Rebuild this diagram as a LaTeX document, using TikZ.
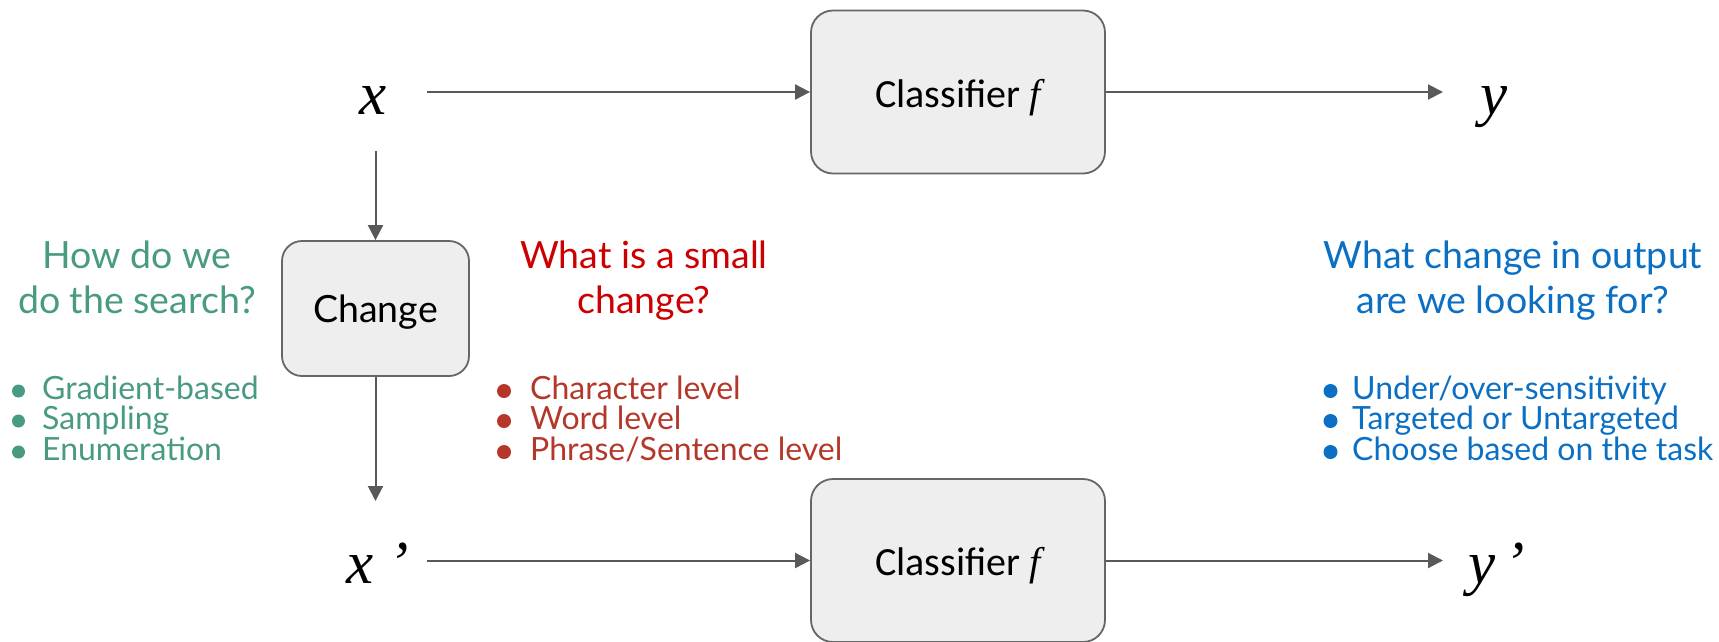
\documentclass[tikz,border=0pt]{standalone}
\usepackage{fontspec}
\setmainfont{Lato}
\newfontfamily\carl{Carlito}
\newfontfamily\tms{Liberation Serif}
\usetikzlibrary{arrows.meta}
\definecolor{boxfill}{HTML}{EEEEEE}
\definecolor{boxline}{HTML}{666666}
\definecolor{arrowc}{HTML}{595959}
\definecolor{qgreen}{HTML}{489A82}
\definecolor{qred}{HTML}{CC0000}
\definecolor{ired}{HTML}{B5372A}
\definecolor{qblue}{HTML}{0B6FC3}
\begin{document}
\begin{tikzpicture}[x=1pt,y=-1pt,
  box/.style={draw=boxline, fill=boxfill, line width=1.8pt, rounded corners=22pt, inner sep=0pt},
  arr/.style={draw=arrowc, line width=2pt, -{Triangle[length=15pt,width=15pt]}},
  mathlbl/.style={inner sep=0pt, font=\tms\itshape\fontsize{61}{61}\selectfont},
  clsf/.style={box, minimum width=294pt, minimum height=163pt, text height=30pt, text depth=0pt, font=\carl\fontsize{40}{40}\selectfont},
  qtitle/.style={inner sep=0pt, anchor=base, font=\fontsize{37.5}{37.5}\selectfont},
  qitem/.style={inner sep=0pt, anchor=base west, font=\fontsize{32}{32}\selectfont},
]
\useasboundingbox (0,0) rectangle (1719,641);

% main nodes
\node[mathlbl, anchor=base] (x) at (373,114) {x};
\node[clsf] (c1) at (958,92) {Classifier {\tms\itshape f}};
\node[mathlbl, anchor=base] (y) at (1494,114) {y};
\node[box, minimum width=187pt, minimum height=135pt, rounded corners=20pt, text height=27pt, text depth=0pt, font=\fontsize{37.5}{37.5}\selectfont] (chg) at (375.5,308.5) {Change\hspace{8pt}};
\node[mathlbl, anchor=base west] (xp) at (346,583) {x\hspace{15pt}’};
\node[clsf] (c2) at (958,560.5) {Classifier {\tms\itshape f}};
\node[mathlbl, anchor=base west] (yp) at (1468,583) {y\hspace{9pt}’};

% arrow end points
\coordinate (xout) at (427,92);
\coordinate (yin) at (1443,92);
\coordinate (xdown) at (375.5,151);
\coordinate (xpin) at (375.5,501);
\coordinate (xpout) at (427,560.5);
\coordinate (ypin) at (1443,560.5);

\draw[arr] (xout) -- (c1.west);
\draw[arr] (c1.east) -- (yin);
\draw[arr] (xdown) -- (chg.north);
\draw[arr] (chg.south) -- (xpin);
\draw[arr] (xpout) -- (c2.west);
\draw[arr] (c2.east) -- (ypin);

% green question
\node[qtitle, text=qgreen] (g1) at (137,268) {How do we};
\node[qtitle, text=qgreen] (g2) at (137,313) {do the search?};
\node[qitem, text=qgreen] (gi1) at (42,399) {Gradient-based};
\node[qitem, text=qgreen] (gi2) at (42,429) {Sampling};
\node[qitem, text=qgreen] (gi3) at (42,460) {Enumeration};
\fill[qgreen] (18.5,391) circle (6.5pt) (18.5,421) circle (6.5pt) (18.5,452) circle (6.5pt);

% red question
\node[qtitle, text=qred] (r1) at (644,268) {What is a small};
\node[qtitle, text=qred] (r2) at (644,313) {change?};
\node[qitem, text=ired] (ri1) at (530,399) {Character level};
\node[qitem, text=ired] (ri2) at (530,429) {Word level};
\node[qitem, text=ired] (ri3) at (530,460) {Phrase/Sentence level};
\fill[ired] (504,391) circle (7pt) (504,421) circle (7pt) (504,452) circle (7pt);

% blue question
\node[qtitle, text=qblue] (b1) at (1513,268) {What change in output};
\node[qtitle, text=qblue] (b2) at (1513,313) {are we looking for?};
\node[qitem, text=qblue] (bi1) at (1352,399) {Under/over-sensitivity};
\node[qitem, text=qblue] (bi2) at (1352,429) {Targeted or Untargeted};
\node[qitem, text=qblue] (bi3) at (1352,460) {Choose based on the task};
\fill[qblue] (1330.5,391) circle (7pt) (1330.5,421) circle (7pt) (1330.5,452) circle (7pt);
\end{tikzpicture}
\end{document}
